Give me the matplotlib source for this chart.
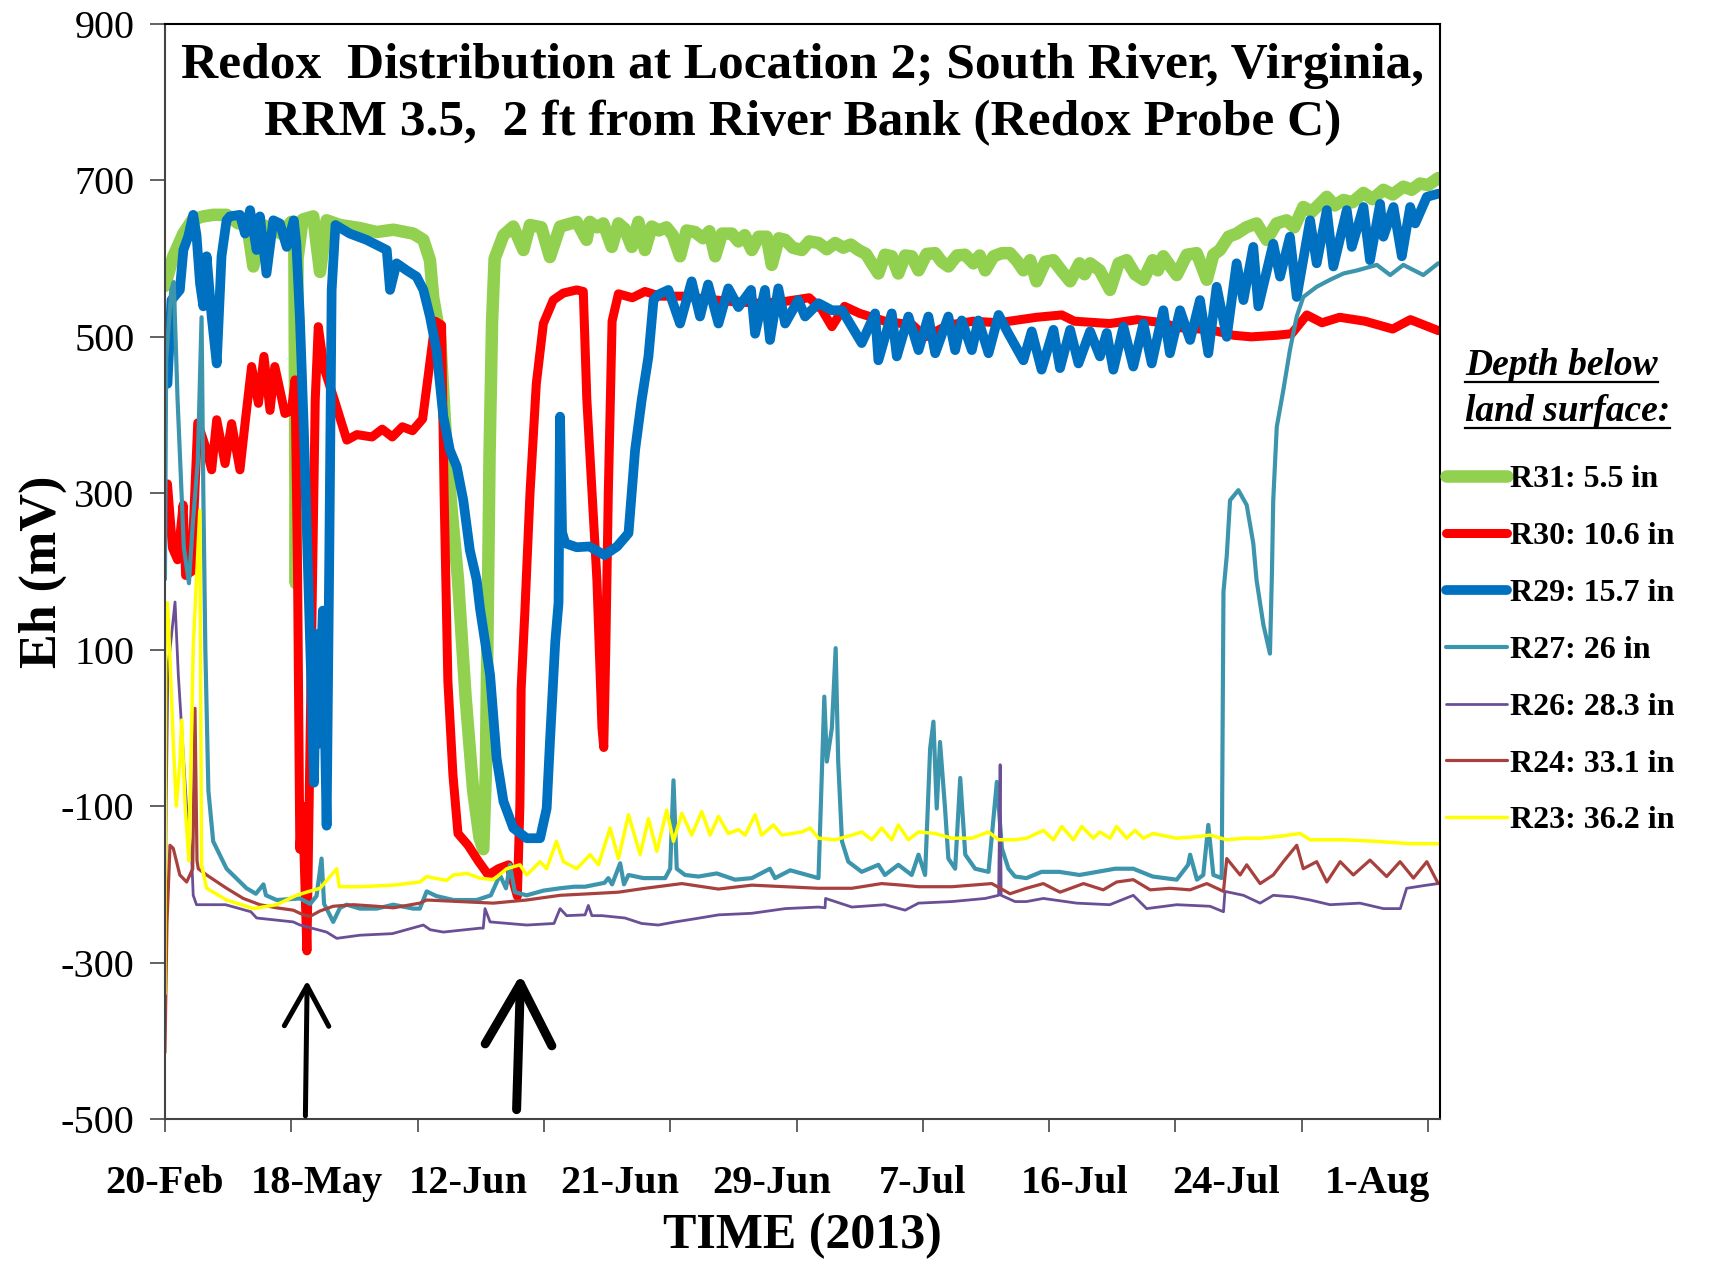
import matplotlib
matplotlib.use("Agg")
import matplotlib.pyplot as plt
from matplotlib.lines import Line2D
import numpy as np

# x is the chart's category position (Excel-style axis), y is Eh in mV
r31_x = [0.0, 0.33, 0.73, 1.1, 1.52, 1.91, 2.44, 2.9, 3.23, 3.5, 3.76, 4.2, 4.6, 5.0, 5.12, 5.18, 5.25, 5.45,
         5.87, 6.14, 6.4, 6.93, 7.72, 8.38, 9.04, 9.83, 10.23, 10.49, 10.62, 10.89, 11.15, 11.4, 11.6, 11.9,
         12.2, 12.45, 12.6, 12.7, 12.78, 12.85, 12.95, 13.05, 13.4, 13.79, 14.19, 14.45, 14.9, 15.24, 15.64,
         16.3, 16.69, 16.82, 17.1, 17.35, 17.69, 17.95, 18.2, 18.48, 18.74, 19.0, 19.27, 19.55, 19.85, 20.1,
         20.39, 20.65, 20.98, 21.3, 21.55, 21.78, 22.05, 22.44, 22.7, 22.95, 23.23, 23.5, 23.82, 24.02,
         24.3, 24.55, 24.85, 25.21, 25.5, 25.87, 26.2, 26.53, 26.85, 27.15, 27.45, 27.75, 27.98, 28.24,
         28.5, 28.77, 29.03, 29.3, 29.56, 29.83, 30.15, 30.49, 30.75, 31.01, 31.35, 31.67, 32.0, 32.25,
         32.47, 32.8, 33.13, 33.45, 33.75, 33.98, 34.25, 34.5, 34.85, 35.17, 35.5, 35.83, 36.2, 36.4,
         36.62, 37.0, 37.41, 37.75, 38.07, 38.4, 38.73, 39.1, 39.3, 39.52, 39.8, 40.05, 40.45, 40.84,
         41.24, 41.5, 41.76, 42.1, 42.42, 42.8, 43.21, 43.61, 44.0, 44.4, 44.7, 45.06, 45.4, 45.99, 46.3,
         46.65, 47.0, 47.44, 47.8, 48.23, 48.6, 49.02, 49.35, 49.68, 50.0, 50.4]
r31_y = [565, 603, 632, 650, 654, 656, 656, 645, 649, 590, 645, 638, 632, 647, 640, 185, 600, 650,
         654, 583, 649, 643, 639, 634, 637, 632, 624, 598, 550, 500, 355, 260, 190, 40,
         -80, -140, -155, -60, 150, 350, 520, 600, 630, 641, 611, 643, 640, 602, 641,
         647, 624, 647, 640, 645, 615, 645, 638, 615, 647, 611, 641, 636, 640, 630,
         603, 636, 634, 626, 635, 603, 632, 632, 622, 630, 611, 628, 628, 592,
         626, 624, 614, 611, 622, 620, 612, 620, 614, 618, 611, 606, 594, 581,
         605, 603, 581, 604, 603, 585, 606, 607, 596, 590, 604, 605, 594, 604,
         585, 603, 607, 607, 596, 585, 598, 571, 596, 598, 584, 571, 594, 580,
         594, 585, 560, 594, 598, 580, 573, 598, 585, 603, 590, 579, 605, 607,
         573, 605, 611, 628, 632, 640, 645, 624, 645, 649, 640, 666, 660, 679, 668,
         675, 672, 684, 676, 688, 682, 692, 688, 696, 694, 703]

r30_x = [0.0, 0.1, 0.3, 0.5, 0.72, 0.82, 1.05, 1.3, 1.65, 1.85, 2.05, 2.38, 2.64, 2.97, 3.17, 3.43, 3.7,
         3.92, 4.16, 4.35, 4.75, 5.01, 5.15, 5.25, 5.34, 5.45, 5.62, 5.8, 5.95, 6.07, 6.3, 6.7, 7.2, 7.6,
         8.2, 8.6, 9.0, 9.4, 9.8, 10.2, 10.5, 10.7, 10.95, 11.05, 11.2, 11.4, 11.6, 12.0, 12.4, 12.8, 13.2,
         13.6, 13.95, 14.05, 14.1, 14.25, 14.45, 14.7, 14.98, 15.37, 15.77, 16.3, 16.56, 16.7, 17.1, 17.3,
         17.37, 17.45, 17.55, 17.7, 17.95, 18.5, 19.0, 19.6, 20.5, 21.5, 22.5, 23.5, 24.5, 25.5, 26.0,
         26.4, 26.9, 27.5, 28.5, 29.6, 30.1, 31.0, 32.0, 33.0, 34.5, 35.5, 36.0, 37.4, 38.5, 39.5, 40.05,
         41.4, 42.3, 43.0, 44.0, 44.6, 45.2, 45.8, 46.5, 47.5, 48.6, 49.3, 50.4]
r30_y = [290, 312, 230, 215, 285, 195, 200, 390, 355, 330, 394, 338, 389, 330, 389, 462, 415,
         475, 406, 462, 402, 406, 445, 200, -155, -100, -285, 100, 420, 513, 460, 420, 368, 375,
         372, 382, 372, 385, 380, 395, 470, 520, 515, 300, 60, -60, -135, -150, -170, -188, -180,
         -175, -215, -100, 50, 150, 300, 440, 517, 547, 556, 560, 558, 420, 189, 0,
         -25, 100, 300, 520, 555, 550, 558, 552, 552, 548, 545, 543, 545, 550, 535,
         513, 539, 530, 520, 515, 500, 515, 520, 518, 525, 528, 520, 517, 522, 518, 512,
         509, 502, 500, 502, 504, 528, 518, 525, 520, 510, 522, 508]

r29_x = [0.0, 0.1, 0.26, 0.59, 0.73, 0.92, 1.12, 1.25, 1.39, 1.52, 1.65, 1.85, 2.05, 2.24, 2.44, 2.57,
         2.97, 3.17, 3.37, 3.63, 3.76, 4.02, 4.29, 4.55, 4.82, 5.1, 5.2, 5.34, 5.5, 5.62, 5.8, 5.9, 6.0,
         6.1, 6.25, 6.4, 6.5, 6.6, 6.75, 7.32, 7.98, 8.78, 8.91, 9.17, 9.57, 9.96, 10.23, 10.49, 10.75,
         11.02, 11.28, 11.55, 11.81, 12.07, 12.34, 12.47, 12.87, 13.13, 13.4, 13.79, 14.32, 14.85, 15.11,
         15.24, 15.45, 15.58, 15.64, 15.72, 15.85, 16.3, 16.8, 17.4, 17.9, 18.35, 18.61, 18.87, 19.14,
         19.34, 19.53, 19.93, 20.39, 20.85, 21.18, 21.5, 21.91, 22.3, 22.7, 23.2, 23.36, 23.75, 23.95,
         24.28, 24.55, 25.07, 25.34, 25.87, 26.4, 26.8, 27.58, 28.11, 28.24, 28.77, 28.97, 29.43, 29.83,
         30.22, 30.49, 31.01, 31.28, 31.54, 31.94, 32.2, 32.6, 33.0, 33.39, 33.98, 34.31, 34.7, 35.17,
         35.43, 35.83, 36.16, 36.62, 37.01, 37.28, 37.54, 37.94, 38.33, 38.73, 39.06, 39.52, 39.78, 40.18,
         40.58, 40.97, 41.3, 41.63, 42.03, 42.42, 42.69, 43.08, 43.28, 43.87, 44.14, 44.53, 44.8, 45.33,
         45.59, 45.99, 46.25, 46.78, 46.98, 47.44, 47.7, 48.1, 48.23, 48.63, 48.96, 49.29, 49.49, 49.95,
         50.4]
r29_y = [450, 440, 547, 560, 611, 628, 656, 630, 568, 539, 603, 526, 466, 603, 649, 654,
         656, 632, 662, 611, 654, 581, 649, 645, 615, 649, 620, 526, 380, 250, 50, -70, 120,
         -20, 150, -125, 200, 560, 643, 632, 624, 611, 560, 594, 585, 577, 560, 526, 483,
         398, 355, 334, 291, 227, 189, 153, 68, -39, -94, -128, -141, -141, -103,
         -18, 110, 160, 398, 250, 236, 231, 232, 221, 232, 249, 355, 419, 475,
         547, 554, 560, 517, 571, 526, 567, 517, 562, 538, 560, 504, 560, 496,
         562, 517, 547, 526, 543, 534, 534, 492, 530, 470, 530, 475, 526, 483,
         526, 479, 526, 483, 521, 483, 521, 479, 528, 504, 470, 507, 458, 509,
         460, 509, 466, 507, 475, 505, 458, 513, 462, 517, 466, 534, 479, 534,
         496, 547, 479, 564, 500, 594, 547, 615, 539, 619, 577, 628, 551, 649,
         594, 662, 590, 662, 615, 666, 598, 670, 628, 666, 603, 666, 645, 679,
         683]

r27_x = [0.0, 0.05, 0.25, 0.35, 0.5, 0.75, 0.95, 1.1, 1.3, 1.45, 1.52, 1.6, 1.72, 1.91, 2.44, 3.23, 3.6,
         3.9, 4.0, 4.42, 5.34, 5.75, 6.0, 6.2, 6.3, 6.4, 6.66, 6.93, 7.2, 7.72, 8.38, 9.04, 9.83, 10.09,
         10.36, 10.75, 11.42, 12.34, 12.9, 13.26, 13.5, 13.66, 13.85, 14.32, 14.98, 15.64, 16.2, 16.63,
         17.4, 17.55, 17.7, 18.02, 18.17, 18.35, 18.94, 19.8, 20.0, 20.13, 20.26, 20.59, 21.12, 21.84,
         22.57, 23.23, 23.95, 24.15, 24.75, 25.87, 26.1, 26.2, 26.4, 26.55, 26.65, 26.8, 27.05, 27.58,
         28.24, 28.5, 29.03, 29.56, 29.83, 30.09, 30.29, 30.42, 30.55, 30.68, 30.88, 31.01, 31.28, 31.48,
         31.68, 32.07, 32.6, 32.93, 33.13, 33.39, 33.65, 34.1, 34.7, 35.4, 36.2, 37.61, 38.33, 39.1, 40.05,
         40.5, 40.58, 40.85, 41.1, 41.3, 41.5, 41.83, 41.9, 42.03, 42.16, 42.49, 42.82, 43.08, 43.21,
         43.48, 43.74, 43.82, 43.87, 44.01, 44.27, 44.53, 44.8, 45.06, 45.59, 46.12, 46.65, 47.2, 47.97,
         48.5, 49.02, 49.81, 50.4]
r27_y = [190, 470, 560, 570, 420, 230, 185, 260, 340, 525, 300, 100, -80, -145, -180, -205, -212,
         -200, -214, -220, -218, -225, -215, -167, -225, -231, -248, -230, -226, -231, -231, -226, -231, -231,
         -209, -215, -220, -220, -214, -188, -205, -175, -210, -214, -208, -205, -203, -203,
         -198, -192, -200, -173, -200, -188, -192, -192, -180, -67, -180, -188, -190, -186,
         -194, -192, -180, -192, -182, -192, 40, -43, 0, 102, -43, -145, -171, -184,
         -175, -188, -175, -188, -162, -188, -26, 8, -103, -18, -103, -167, -180, -64,
         -162, -180, -184, -69, -154, -180, -190, -192, -184, -184, -188, -180, -180, -190, -194,
         -175, -162, -194, -188, -124, -188, -192, 174, 220, 291, 304, 285, 236, 189,
         132, 95, 200, 291, 385, 432, 483, 526, 551, 564, 573, 581, 585, 592,
         579, 592, 579, 594]

r26_x = [0.0, 0.05, 0.12, 0.2, 0.4, 0.53, 0.7, 0.86, 1.06, 1.12, 1.25, 2.4, 3.4, 3.63, 5.08, 5.35, 6.4,
         6.8, 7.72, 9.0, 10.23, 10.5, 11.02, 12.47, 12.6, 12.67, 12.87, 14.32, 15.4, 15.64, 15.9, 16.63,
         16.76, 16.9, 17.3, 18.21, 18.87, 19.53, 20.2, 20.98, 21.91, 23.23, 24.55, 25.87, 26.13, 26.15,
         27.19, 28.5, 29.3, 29.83, 31.15, 32.47, 33.0, 33.06, 33.1, 33.65, 34.1, 34.77, 36.09, 37.4, 38.33,
         38.86, 40.05, 41.37, 41.9, 41.96, 42.69, 43.35, 43.87, 44.66, 45.33, 46.12, 47.3, 48.23, 48.9,
         49.15, 49.95, 50.4]
r26_y = [-350, -100, 80, 100, 161, 68, -20, -103, -167, -214, -226, -226, -235, -243, -248, -252, -261,
         -269, -265, -263, -252, -258, -261, -256, -256, -231, -248, -252, -250, -231, -240, -239,
         -227, -240, -240, -243, -250, -252, -248, -244, -239, -237, -231, -229, -230, -218,
         -229, -226, -233, -224, -222, -218, -214, -47, -214, -222, -222, -218, -224, -226, -214,
         -231, -226, -228, -235, -209, -214, -224, -214, -216, -220, -226, -224, -231, -231,
         -205, -201, -199]

r24_x = [0.0, 0.08, 0.2, 0.33, 0.59, 0.86, 1.1, 1.19, 1.27, 1.32, 1.65, 2.44, 3.1, 3.76, 4.42, 5.08, 5.48,
         5.74, 6.14, 6.66, 7.45, 8.38, 9.04, 10.09, 10.36, 11.68, 13.0, 14.32, 15.64, 16.82, 17.95, 19.01,
         20.46, 21.91, 23.23, 24.55, 25.87, 27.19, 28.37, 29.17, 29.83, 31.15, 32.73, 33.45, 34.1, 34.77,
         35.43, 36.36, 37.14, 37.67, 38.33, 39.0, 39.78, 40.58, 41.24, 41.9, 42.03, 42.56, 42.82, 43.35,
         43.87, 44.27, 44.8, 45.06, 45.59, 45.99, 46.52, 47.04, 47.7, 48.36, 48.89, 49.42, 49.95, 50.4]
r24_y = [-415, -250, -150, -154, -188, -197, -180, 25, -170, -180, -188, -205, -218, -226, -230, -233, -239,
         -241, -234, -228, -226, -228, -230, -224, -220, -222, -224, -220, -214, -212, -210, -205,
         -199, -206, -201, -203, -205, -205, -199, -201, -203, -203, -199, -212, -205, -199,
         -210, -199, -207, -197, -194, -207, -205, -207, -199, -209, -167, -188, -175, -199,
         -188, -171, -150, -180, -171, -197, -171, -188, -169, -190, -171, -192, -171, -199]

r23_x = [0.0, 0.03, 0.1, 0.2, 0.33, 0.45, 0.6, 0.66, 0.8, 0.95, 1.12, 1.38, 1.45, 1.65, 2.44, 3.5, 4.42,
         5.21, 5.6, 6.14, 6.8, 6.9, 7.72, 9.04, 10.09, 10.36, 11.15, 11.42, 11.94, 12.47, 13.0, 13.53,
         14.05, 14.32, 14.85, 15.11, 15.5, 15.77, 16.3, 16.83, 17.16, 17.62, 17.95, 18.35, 18.81, 19.14,
         19.47, 19.86, 20.13, 20.46, 20.85, 21.25, 21.58, 21.91, 22.3, 22.7, 22.97, 23.36, 23.62, 24.09,
         24.42, 25.21, 25.54, 25.87, 26.53, 27.19, 27.58, 27.98, 28.37, 28.77, 29.03, 29.43, 29.83, 30.49,
         31.15, 31.94, 32.6, 33.0, 33.65, 34.11, 34.77, 35.17, 35.5, 35.96, 36.29, 36.75, 37.01, 37.41,
         37.67, 38.07, 38.4, 38.73, 39.12, 40.05, 40.84, 41.37, 42.03, 42.69, 43.35, 44.01, 44.93, 45.33,
         46.65, 47.97, 49.29, 50.4]
r23_y = [-340, 150, 160, 89, -18, -100, -40, 10, -100, -170, 102, 278, -175, -205, -220, -231, -226,
         -214, -210, -205, -180, -203, -203, -201, -197, -190, -195, -188, -186, -192, -194, -180,
         -175, -188, -171, -180, -145, -171, -180, -162, -175, -128, -167, -111, -162, -116,
         -158, -105, -145, -109, -137, -107, -137, -113, -135, -130, -137, -111, -137, -124,
         -137, -133, -128, -141, -143, -137, -133, -143, -128, -143, -124, -143, -133, -135,
         -141, -141, -133, -143, -143, -141, -131, -143, -126, -143, -126, -141, -133, -141,
         -126, -141, -131, -141, -135, -141, -139, -137, -143, -141, -141, -139, -135, -143,
         -143, -145, -148, -148]

series_labels = ["R31: 5.5 in", "R30: 10.6 in", "R29: 15.7 in", "R27: 26 in",
                 "R26: 28.3 in", "R24: 33.1 in", "R23: 36.2 in"]
series_colors = ["#92D050", "#FF0000", "#0070C0", "#3C95AD", "#6B4F96", "#A8413E", "#FFFF00"]
series_widths = [9.0, 6.5, 7.0, 3.0, 2.0, 2.3, 2.5]

x_tick_pos = [0, 6, 12, 18, 24, 30, 36, 42, 48]
x_tick_labels = ["20-Feb", "18-May", "12-Jun", "21-Jun", "29-Jun", "7-Jul", "16-Jul", "24-Jul", "1-Aug"]
y_ticks = [-500, -300, -100, 100, 300, 500, 700, 900]

# arrows marking the two events: (tail x, tail y, tip x, tip y)
arrows = [(5.56, -496, 5.63, -323), (13.92, -488, 14.08, -315)]

plt.rcParams["font.family"] = ["Liberation Serif", "DejaVu Serif"]

fig = plt.figure(figsize=(17.27, 12.62), dpi=100)
ax = fig.add_axes([0.0955, 0.1133, 0.7383, 0.8677])

all_x = [r31_x, r30_x, r29_x, r27_x, r26_x, r24_x, r23_x]
all_y = [r31_y, r30_y, r29_y, r27_y, r26_y, r24_y, r23_y]
handles = []
for xs, ys, lab, c, w in zip(all_x, all_y, series_labels, series_colors, series_widths):
    h, = ax.plot(xs, ys, color=c, lw=w, label=lab,
                 solid_joinstyle="round", solid_capstyle="round")
    handles.append(h)

for tx, ty, hx, hy in arrows[:1]:
    ax.annotate("", xy=(hx, hy), xytext=(tx, ty),
                arrowprops=dict(arrowstyle="->,head_length=1.45,head_width=0.8", lw=3.6, color="black",
                                mutation_scale=20, shrinkA=0, shrinkB=0,
                                capstyle="round", joinstyle="round"))
for tx, ty, hx, hy in arrows[1:]:
    ax.annotate("", xy=(hx, hy), xytext=(tx, ty),
                arrowprops=dict(arrowstyle="->,head_length=2.2,head_width=1.2", lw=6.5, color="black",
                                mutation_scale=20, shrinkA=0, shrinkB=0,
                                capstyle="round", joinstyle="round"))

ax.set_xlim(0, 50.47)
ax.set_ylim(-500, 900)
ax.set_yticks(y_ticks)
ax.set_yticklabels([str(v) for v in y_ticks], fontsize=29)
ax.xaxis.remove_overlapping_locs = False
ax.set_xticks(np.arange(0, 51, 5))
ax.set_xticklabels([])
ax.set_xticks(x_tick_pos, minor=True)
ax.set_xticklabels(x_tick_labels, minor=True, fontsize=29, fontweight="bold")
ax.tick_params(axis="x", which="major", direction="out", length=9, width=1.3, color="#555555")
ax.tick_params(axis="x", which="minor", length=0, pad=33)
ax.tick_params(axis="y", direction="out", length=11, width=1.3, color="#555555", pad=11)
for s in ax.spines.values():
    s.set_linewidth(1.5)
    s.set_color("black")
ax.spines["left"].set_color("#444444")
ax.spines["bottom"].set_color("#444444")

ax.set_ylabel("Eh (mV)", fontsize=37.5, fontweight="bold")
ax.yaxis.set_label_coords(-0.077, 0.5)
ax.set_xlabel("TIME (2013)", fontsize=36, fontweight="bold")
ax.xaxis.set_label_coords(0.5, -0.086)

ax.text(0.5, 0.9616, "Redox  Distribution at Location 2; South River, Virginia,",
        transform=ax.transAxes, ha="center", va="center", fontsize=37, fontweight="bold")
ax.text(0.5, 0.9092, "RRM 3.5,  2 ft from River Bank (Redox Probe C)",
        transform=ax.transAxes, ha="center", va="center", fontsize=37, fontweight="bold")

fig.legend(handles=handles, labels=series_labels, loc="center left", bbox_to_anchor=(0.8373, 0.4847),
           frameon=False, prop={"weight": "bold", "size": 23}, handlelength=1.9, handletextpad=0.1,
           labelspacing=0.86, borderpad=0, borderaxespad=0)

# legend heading, underlined
heads = [fig.text(0.8483, 0.710, "Depth below", fontsize=27, fontweight="bold", style="italic", va="center"),
         fig.text(0.8483, 0.6743, "land surface:", fontsize=27, fontweight="bold", style="italic", va="center")]
fig.canvas.draw()
rend = fig.canvas.get_renderer()
W, H = fig.bbox.width, fig.bbox.height
for t in heads:
    bb = t.get_window_extent(rend)
    yy = (bb.y0 + 1) / H
    fig.add_artist(Line2D([bb.x0 / W, bb.x1 / W], [yy, yy], transform=fig.transFigure,
                          color="black", lw=1.6))

fig.savefig("out.png", dpi=100)
